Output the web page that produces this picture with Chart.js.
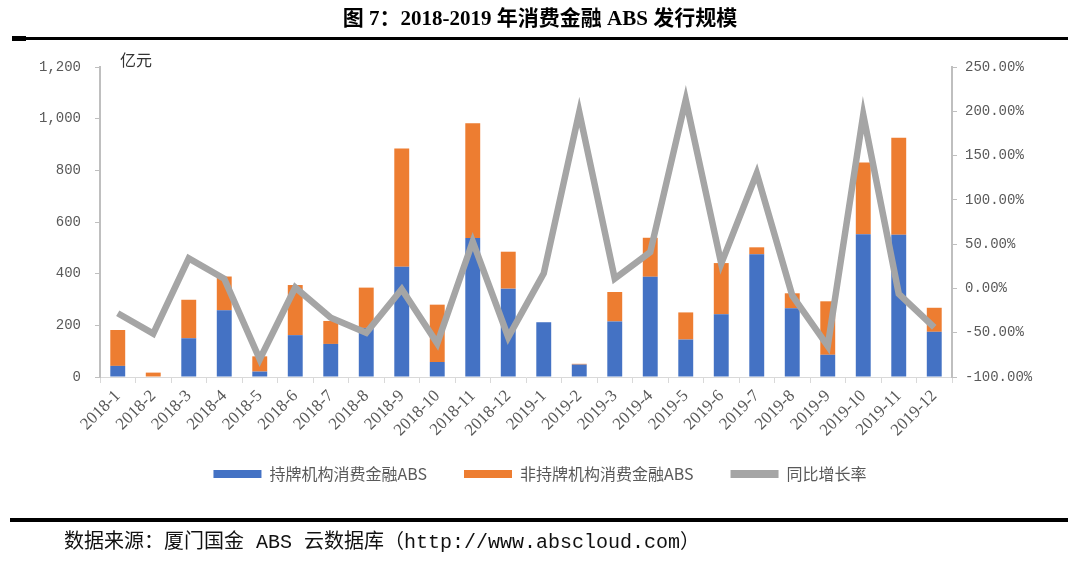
<!DOCTYPE html>
<html>
<head>
<meta charset="utf-8">
<script src="https://cdn.jsdelivr.net/npm/chart.js@4/dist/chart.umd.min.js"></script>
<style>
  html, body { margin: 0; padding: 0; background: #fff; }
  #wrap { position: relative; width: 1080px; height: 561px; }
</style>
</head>
<body>
<div id="wrap"><canvas id="absChart"></canvas></div>
<script>
const months = ["2018-1", "2018-2", "2018-3", "2018-4", "2018-5", "2018-6", "2018-7", "2018-8", "2018-9", "2018-10", "2018-11", "2018-12",
    "2019-1", "2019-2", "2019-3", "2019-4", "2019-5", "2019-6", "2019-7", "2019-8", "2019-9", "2019-10", "2019-11", "2019-12"];
// 持牌机构 (亿元)
const licensed = [43, 0, 150, 258, 21, 162, 128, 190, 427, 58, 538, 342, 212, 48, 215, 388, 145, 243, 475, 266, 86, 553, 551, 175];
// 非持牌机构 (亿元)
const unlicensed = [139, 17, 149, 131, 59, 194, 89, 156, 458, 222, 444, 143, 0, 3, 114, 151, 105, 198, 27, 58, 207, 277, 375, 93];
// 同比增长率 (%)
const growth = [-28, -51, 34, 11, -80, 1, -33, -50, -1, -62, 53, -55, 17, 199, 11, 41, 213, 28, 130, -8, -65, 196, -6, -44];

const serif = "'Liberation Serif', 'Noto Sans CJK SC', serif";
const mono = "'Liberation Mono', 'Noto Sans CJK SC', monospace";

const decor = {
    id: "decor",
    afterDraw(chart) {
        const c = chart.ctx;
        c.save();
        c.fillStyle = "#000";
        c.textAlign = "center";
        c.textBaseline = "middle";
        c.font = "bold 21px " + serif;
        c.fillText("图 7：2018-2019 年消费金融 ABS 发行规模", 540, 20);
        c.fillRect(12, 37, 1056, 3);
        c.fillRect(12, 36, 14, 5);
        c.fillRect(10, 518, 1058, 4);
        c.textAlign = "left";
        c.font = "20px " + mono;
        c.fillStyle = "#111";
        c.fillText("数据来源：厦门国金 ABS 云数据库（http://www.abscloud.com）", 64, 543);
        c.font = "16px 'Noto Sans CJK SC', sans-serif";
        c.fillStyle = "#333";
        c.fillText("亿元", 120, 60);
        c.restore();
    }
};

new Chart(document.getElementById("absChart"), {
    data: {
        labels: months,
        datasets: [
            {
                type: "bar",
                label: "持牌机构消费金融ABS",
                data: licensed,
                backgroundColor: "#4472C4",
                stack: "s",
                order: 1
            },
            {
                type: "bar",
                label: "非持牌机构消费金融ABS",
                data: unlicensed,
                backgroundColor: "#ED7D31",
                stack: "s",
                order: 1
            },
            {
                type: "line",
                label: "同比增长率",
                data: growth,
                yAxisID: "y1",
                borderColor: "#A5A5A5",
                backgroundColor: "#A5A5A5",
                borderWidth: 6.5,
                pointRadius: 0,
                tension: 0,
                order: 0
            }
        ]
    },
    options: {
        responsive: true,
        maintainAspectRatio: false,
        animation: false,
        layout: { padding: { top: 67, bottom: 69, left: 0, right: 0 } },
        datasets: { bar: { categoryPercentage: 1, barPercentage: 0.42 } },
        plugins: {
            tooltip: { enabled: false },
            legend: {
                position: "bottom",
                labels: {
                    boxWidth: 48,
                    boxHeight: 8,
                    padding: 21,
                    color: "#595959",
                    font: { size: 16, family: "'Noto Sans CJK SC', sans-serif" },
                    sort: (a, b) => a.datasetIndex - b.datasetIndex,
                    generateLabels(chart) {
                        const items = Chart.defaults.plugins.legend.labels.generateLabels(chart);
                        items.forEach(it => {
                            const ds = chart.data.datasets[it.datasetIndex];
                            it.lineWidth = 0;
                            it.fillStyle = ds.type === "line" ? ds.borderColor : ds.backgroundColor;
                            if (ds.type !== "line") it.text += "\u3000";
                        });
                        return items;
                    }
                }
            }
        },
        scales: {
            x: {
                stacked: true,
                afterFit(s) { s.height = 68; },
                grid: { drawOnChartArea: false, color: "#d9d9d9", tickLength: 6 },
                border: { color: "#d9d9d9" },
                ticks: {
                    minRotation: 45,
                    maxRotation: 45,
                    autoSkip: false,
                    color: "#595959",
                    font: { size: 17, family: serif }
                }
            },
            y: {
                stacked: true,
                min: 0,
                max: 1200,
                afterFit(s) { s.width = 100; },
                grid: { drawOnChartArea: false, color: "#bfbfbf", tickLength: 5 },
                border: { color: "#bfbfbf", width: 2 },
                ticks: {
                    stepSize: 200,
                    padding: 14,
                    color: "#595959",
                    font: { size: 14, family: mono },
                    callback: v => v.toLocaleString("en-US")
                }
            },
            y1: {
                position: "right",
                min: -100,
                max: 250,
                afterFit(s) { s.width = 128; },
                grid: { drawOnChartArea: false, color: "#bfbfbf", tickLength: 5 },
                border: { color: "#bfbfbf", width: 2 },
                ticks: {
                    stepSize: 50,
                    padding: 8,
                    color: "#595959",
                    font: { size: 14, family: mono },
                    callback: v => v.toFixed(2) + "%"
                }
            }
        }
    },
    plugins: [decor]
});
</script>
</body>
</html>
